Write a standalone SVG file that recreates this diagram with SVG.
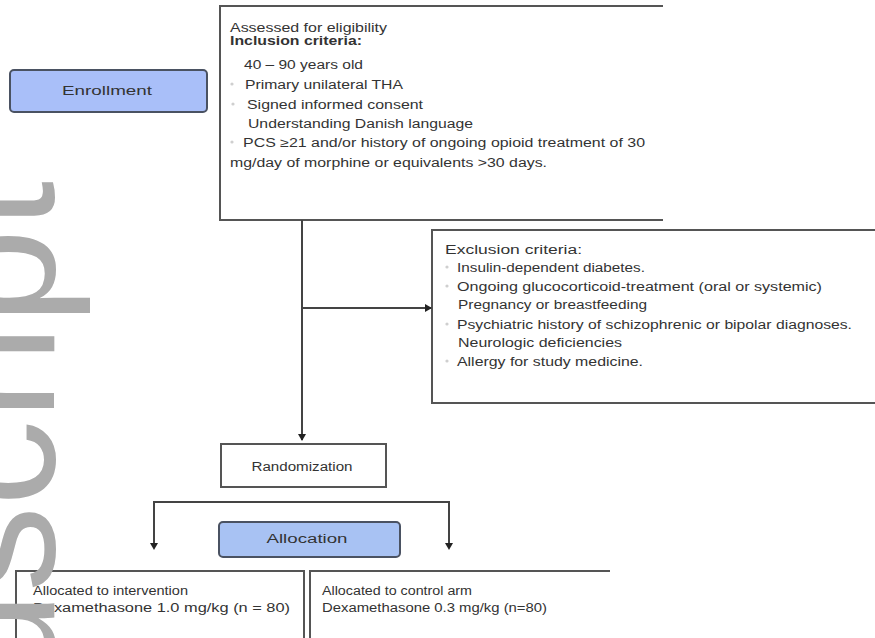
<svg xmlns="http://www.w3.org/2000/svg" width="875" height="638" viewBox="0 0 875 638">
<style>
.t{font-family:"Liberation Sans",Arial,sans-serif;font-size:12.5px;fill:#333}
.b{font-weight:bold}
.box{fill:#fff;stroke:#555;stroke-width:2}
.open{fill:none;stroke:#555;stroke-width:2}
.blue{fill:#a9bff9;stroke:#4a5262;stroke-width:2}
.conn{fill:none;stroke:#444;stroke-width:2}
.bul{fill:#cfcfcf}
.wm{font-family:"Liberation Sans",Arial,sans-serif;font-size:172px;fill:#ababab}
</style>
<defs>
<marker id="ah" markerWidth="8" markerHeight="8" refX="6" refY="4" orient="auto" markerUnits="userSpaceOnUse">
<path d="M0,0 L7,4 L0,8 Z" fill="#222"/>
</marker>
<marker id="dot" markerWidth="8" markerHeight="8" refX="4" refY="4" orient="auto" markerUnits="userSpaceOnUse">
<path d="M0,1 L8,4 L0,7 Z" fill="#222"/>
</marker>
</defs>
<rect width="875" height="638" fill="#fff"/>

<g id="enrollment">
<rect class="blue" x="10" y="70" width="197" height="42" rx="4"/>
<text class="t" x="107" y="95" text-anchor="middle" textLength="90" lengthAdjust="spacingAndGlyphs">Enrollment</text>
</g>

<g id="eligibility">
<path class="open" d="M663,6 H220 V220 H663" fill="#fff"/>
<circle class="bul" cx="232" cy="84" r="1.6"/>
<circle class="bul" cx="233" cy="104" r="1.6"/>
<circle class="bul" cx="232" cy="142" r="1.6"/>
<text class="t" x="230" y="32" textLength="157" lengthAdjust="spacingAndGlyphs">Assessed for eligibility</text>
<text class="t b" x="230" y="45" textLength="132" lengthAdjust="spacingAndGlyphs">Inclusion criteria:</text>
<text class="t" x="244" y="69" textLength="119" lengthAdjust="spacingAndGlyphs">40 – 90 years old</text>
<text class="t" x="245" y="89" textLength="158" lengthAdjust="spacingAndGlyphs">Primary unilateral THA</text>
<text class="t" x="247" y="109" textLength="176" lengthAdjust="spacingAndGlyphs">Signed informed consent</text>
<text class="t" x="248" y="128" textLength="225" lengthAdjust="spacingAndGlyphs">Understanding Danish language</text>
<text class="t" x="243" y="147" textLength="402" lengthAdjust="spacingAndGlyphs">PCS ≥21 and/or history of ongoing opioid treatment of 30</text>
<text class="t" x="230" y="167" textLength="317" lengthAdjust="spacingAndGlyphs">mg/day of morphine or equivalents &gt;30 days.</text>
</g>

<g id="exclusion">
<path class="open" d="M875,230 H432 V403 H875" fill="#fff"/>
<circle class="bul" cx="447" cy="267" r="1.6"/>
<circle class="bul" cx="447" cy="286" r="1.6"/>
<circle class="bul" cx="447" cy="324" r="1.6"/>
<circle class="bul" cx="447" cy="361" r="1.6"/>
<text class="t" x="445" y="254" textLength="137" lengthAdjust="spacingAndGlyphs">Exclusion criteria:</text>
<text class="t" x="457" y="272" textLength="188" lengthAdjust="spacingAndGlyphs">Insulin-dependent diabetes.</text>
<text class="t" x="457" y="291" textLength="365" lengthAdjust="spacingAndGlyphs">Ongoing glucocorticoid-treatment (oral or systemic)</text>
<text class="t" x="458" y="309" textLength="189" lengthAdjust="spacingAndGlyphs">Pregnancy or breastfeeding</text>
<text class="t" x="457" y="329" textLength="395" lengthAdjust="spacingAndGlyphs">Psychiatric history of schizophrenic or bipolar diagnoses.</text>
<text class="t" x="458" y="347" textLength="164" lengthAdjust="spacingAndGlyphs">Neurologic deficiencies</text>
<text class="t" x="457" y="366" textLength="186" lengthAdjust="spacingAndGlyphs">Allergy for study medicine.</text>
</g>

<g id="randomization">
<rect class="box" x="221" y="444" width="165" height="43"/>
<text class="t" x="302" y="471" text-anchor="middle" textLength="101" lengthAdjust="spacingAndGlyphs">Randomization</text>
</g>

<g id="allocation">
<rect class="blue" x="219" y="522" width="181" height="35" rx="4" style="fill:#a8c2f3"/>
<text class="t" x="307" y="543" text-anchor="middle" textLength="81" lengthAdjust="spacingAndGlyphs">Allocation</text>
</g>

<g id="intervention">
<path class="open" d="M16,645 V571 H304 V645" fill="#fff"/>
<text class="t" x="33" y="595" textLength="155" lengthAdjust="spacingAndGlyphs">Allocated to intervention</text>
<text class="t" x="33" y="612" textLength="257" lengthAdjust="spacingAndGlyphs">Dexamethasone 1.0 mg/kg (n = 80)</text>
</g>

<g id="control">
<path class="open" d="M310,645 V571 H610" fill="#fff"/>
<text class="t" x="322" y="595" textLength="150" lengthAdjust="spacingAndGlyphs">Allocated to control arm</text>
<text class="t" x="322" y="612" textLength="225" lengthAdjust="spacingAndGlyphs">Dexamethasone 0.3 mg/kg (n=80)</text>
</g>

<g id="connectors">
<path class="conn" d="M302,220 V440" marker-end="url(#ah)"/>
<path class="conn" d="M302,308 H431" marker-end="url(#ah)"/>
<path class="conn" d="M154,547 V502 H449 V547"/>
<path d="M150,543 L154,550 L158,543 Z" fill="#222"/>
<path d="M445,543 L449,550 L453,543 Z" fill="#222"/>
</g>

<text class="wm" transform="translate(54,181) rotate(-90)" text-anchor="end">Manuscript</text>
</svg>
